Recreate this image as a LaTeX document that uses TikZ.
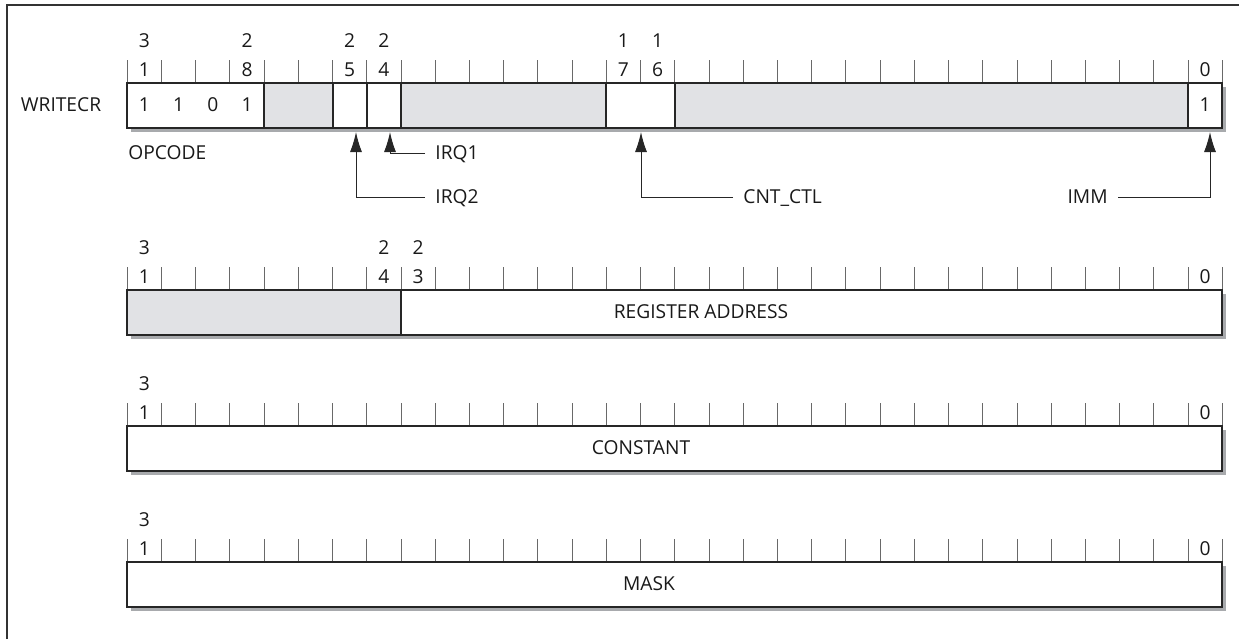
\documentclass[tikz,border=0pt]{standalone}
\usepackage{fontspec}
\setmainfont{Open Sans}
\usetikzlibrary{arrows.meta,positioning}
\definecolor{resv}{RGB}{225,226,229}
\definecolor{shade}{RGB}{168,170,173}
\definecolor{tickc}{RGB}{105,105,105}
% left edge and centre of bit #1
\newcommand{\bx}[1]{127.3+(31-#1)*34.22}
\newcommand{\bc}[1]{144.4+(31-#1)*34.22}

\begin{document}
\begin{tikzpicture}[
  x=0.5pt,
  y=-0.5pt,
  every node/.style={font=\fontsize{9.6}{11}\selectfont,text=black!90,inner sep=0pt,text height=6.8pt,text depth=0pt},
  box/.style={draw=black!85,line width=1.1pt,fill=white},
  resbox/.style={box,fill=resv},
  shadow/.style={fill=shade},
  tick/.style={draw=tickc,line width=0.5pt},
  tag/.style={inner sep=5pt},
  ptr/.style={-{Latex[length=10pt,width=6pt]},line width=0.5pt,draw=black!85},
  frame/.style={draw=black!80,line width=0.6pt}
]
\useasboundingbox (0,0) rectangle (1239,639);
\draw[frame] (7,639) -- (7,5) -- (1239,5);

% shadows
\foreach \t in {83,290,426,562}
  \fill[shadow] (131.3,\t+4) rectangle (1226.3,\t+49);

% ticks
\foreach \t in {83,290,426,562}
  \foreach \i in {0,...,32}
    \draw[tick] ({127.3+\i*34.22},\t-23) -- ({127.3+\i*34.22},\t);

% WRITECR
\draw[box] ({\bx{31}},83) rectangle ({\bx{27}},128);
\draw[resbox] ({\bx{27}},83) rectangle ({\bx{25}},128);
\draw[box] ({\bx{25}},83) rectangle ({\bx{24}},128);
\draw[box] ({\bx{24}},83) rectangle ({\bx{23}},128);
\draw[resbox] ({\bx{23}},83) rectangle ({\bx{17}},128);
\draw[box] ({\bx{17}},83) rectangle ({\bx{15}},128);
\draw[resbox] ({\bx{15}},83) rectangle ({\bx{0}},128);
\draw[box] ({\bx{0}},83) rectangle ({\bx{-1}},128);

\node (wname) at (61,105) {WRITECR};
\node[anchor=west] (wop) at (128,153) {OPCODE};

\node (wt31) at ({\bc{31}},41) {3};
\node (wt28) at ({\bc{28}},41) {2};
\node (wt25) at ({\bc{25}},41) {2};
\node (wt24) at ({\bc{24}},41) {2};
\node (wt17) at ({\bc{17}},41) {1};
\node (wt16) at ({\bc{16}},41) {1};
\node (wb31) at ({\bc{31}},70) {1};
\node (wb28) at ({\bc{28}},70) {8};
\node (wb25) at ({\bc{25}},70) {5};
\node (wb24) at ({\bc{24}},70) {4};
\node (wb17) at ({\bc{17}},70) {7};
\node (wb16) at ({\bc{16}},70) {6};
\node (wb0) at ({\bc{0}},70) {0};

\node (v31) at ({\bc{31}},105) {1};
\node (v30) at ({\bc{30}},105) {1};
\node (v29) at ({\bc{29}},105) {0};
\node (v28) at ({\bc{28}},105) {1};
\node (v0) at ({\bc{0}},105) {1};

% pointers
\coordinate (p25) at (356,132);
\coordinate (p24) at (390,132);
\coordinate (p16) at (641,132);
\coordinate (p0) at (1210,132);
\node[tag,anchor=west] (irq1) at (425,153) {IRQ1};
\node[tag,anchor=west] (irq2) at (425,197) {IRQ2};
\node[tag,anchor=west] (cntctl) at (733,197) {CNT\_CTL};
\node[tag,anchor=east] (imm) at (1118,197) {IMM};
\draw[ptr] (irq1.west) -| (p24);
\draw[ptr] (irq2.west) -| (p25);
\draw[ptr] (cntctl.west) -| (p16);
\draw[ptr] (imm.east) -| (p0);

% register address word
\draw[resbox] ({\bx{31}},290) rectangle ({\bx{23}},335);
\draw[box] ({\bx{23}},290) rectangle ({\bx{-1}},335);
\node (at31) at ({\bc{31}},248) {3};
\node (at24) at ({\bc{24}},248) {2};
\node (at23) at ({\bc{23}},248) {2};
\node (ab31) at ({\bc{31}},277) {1};
\node (ab24) at ({\bc{24}},277) {4};
\node (ab23) at ({\bc{23}},277) {3};
\node (ab0) at ({\bc{0}},277) {0};
\node (areg) at (701,312) {REGISTER ADDRESS};

% constant word
\draw[box] ({\bx{31}},426) rectangle ({\bx{-1}},471);
\node (ct31) at ({\bc{31}},384) {3};
\node (cb31) at ({\bc{31}},413) {1};
\node (cb0) at ({\bc{0}},413) {0};
\node (cval) at (641,448) {CONSTANT};

% mask word
\draw[box] ({\bx{31}},562) rectangle ({\bx{-1}},607);
\node (mt31) at ({\bc{31}},520) {3};
\node (mb31) at ({\bc{31}},549) {1};
\node (mb0) at ({\bc{0}},549) {0};
\node (mval) at (649,584) {MASK};
\end{tikzpicture}
\end{document}
